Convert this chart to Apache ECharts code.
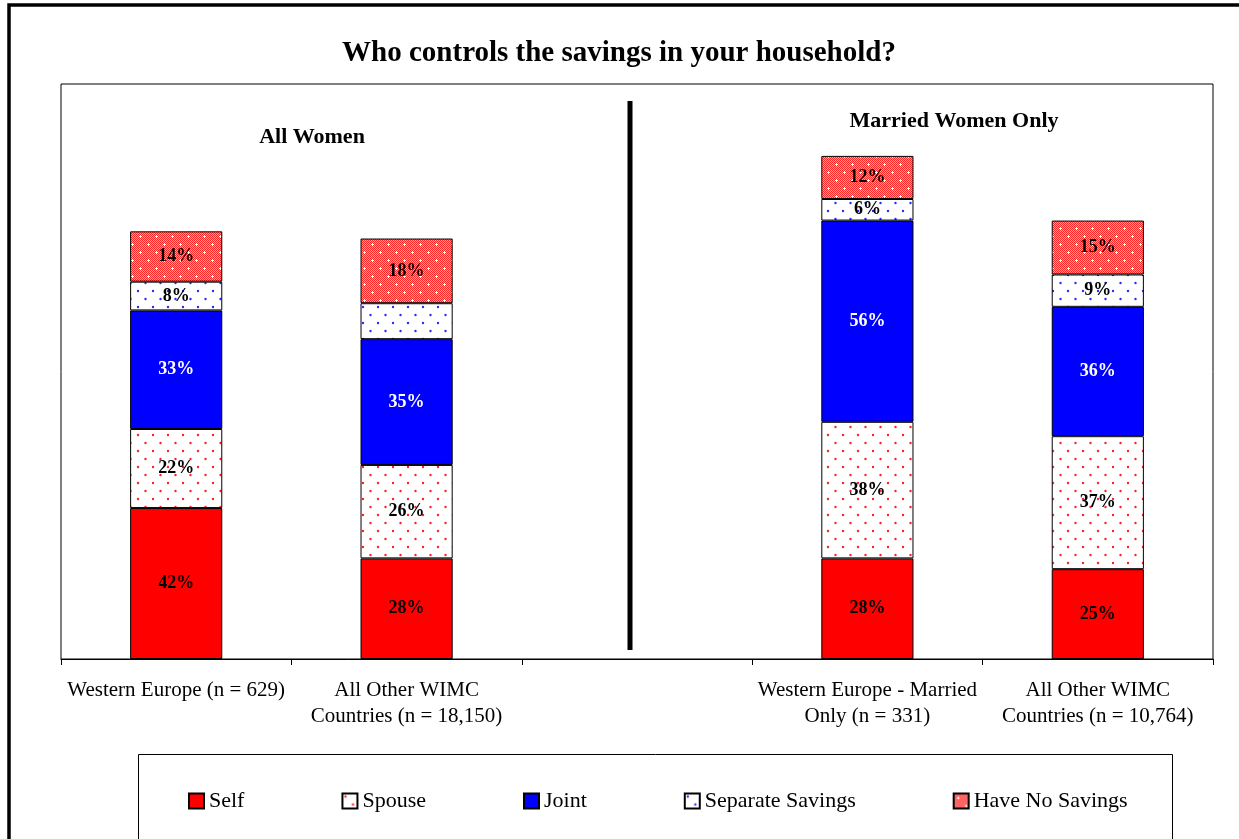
<!DOCTYPE html>
<html>
<head>
<meta charset="utf-8">
<script src="https://cdn.jsdelivr.net/npm/echarts@6/dist/echarts.min.js"></script>
<style>
  html, body { margin: 0; padding: 0; background: #fff; }
  #chart { width: 1239px; height: 839px; }
</style>
</head>
<body>
<div id="chart"></div>
<script>
// Survey groups (third slot is an empty spacer between the two panels)
const categories = [
  'Western Europe (n = 629)',
  'All Other WIMC\nCountries (n = 18,150)',
  '',
  'Western Europe - Married\nOnly (n = 331)',
  'All Other WIMC\nCountries (n = 10,764)'
];

// Percent of respondents per answer
const selfValues      = [42, 28, null, 28, 25];
const spouseValues    = [22, 26, null, 38, 37];
const jointValues     = [33, 35, null, 56, 36];
const separateValues  = [8, 10, null, 6, 9];
const noSavingsValues = [14, 18, null, 12, 15];

// Segments printed without a value label
const separateHidden = [false, true, false, false, false];

const seriesNames = ['Self', 'Spouse', 'Joint', 'Separate Savings', 'Have No Savings'];

// ---- fill patterns ----
function dotPattern(color) {
  const c = document.createElement('canvas');
  c.width = 15; c.height = 16;
  const g = c.getContext('2d');
  g.fillStyle = '#ffffff';
  g.fillRect(0, 0, 15, 16);
  g.fillStyle = color;
  [[3, 3], [10.5, 11]].forEach(([x, y]) => {
    g.beginPath();
    g.arc(x, y, 1.2, 0, Math.PI * 2);
    g.fill();
  });
  return { image: c, repeat: 'repeat' };
}

function checkerPattern() {
  const c = document.createElement('canvas');
  c.width = 16; c.height = 16;
  const g = c.getContext('2d');
  for (let i = 0; i < 16; i++) {
    for (let j = 0; j < 16; j++) {
      g.fillStyle = (i + j) % 2 === 0 ? '#ff2626' : '#ffa0a0';
      g.fillRect(i, j, 1, 1);
    }
  }
  g.fillStyle = '#ffffff';
  [[4, 4], [12, 12]].forEach(([x, y]) => {
    g.fillRect(x - 1, y, 3, 1);
    g.fillRect(x, y - 1, 1, 3);
  });
  return { image: c, repeat: 'repeat' };
}

const fills = [
  '#ff0000',
  dotPattern('#ff2020'),
  '#0000ff',
  dotPattern('#2a2aff'),
  checkerPattern()
];

const valueSets = [selfValues, spouseValues, jointValues, separateValues, noSavingsValues];

const serifFont = '"Liberation Serif", "Times New Roman", serif';

const series = seriesNames.map((name, s) => ({
  name,
  type: 'bar',
  stack: 'total',
  barWidth: '40%',
  itemStyle: { color: fills[s], borderColor: '#000', borderWidth: 1 },
  label: {
    show: true,
    position: 'inside',
    formatter: p => p.value == null ? '' : p.value + '%',
    fontFamily: serifFont,
    fontWeight: 'bold',
    fontSize: 18,
    color: s === 2 ? '#ffffff' : '#000000'
  },
  emphasis: { disabled: true },
  data: valueSets[s].map((v, i) =>
    s === 3 && separateHidden[i] ? { value: v, label: { show: false } } : v)
}));

const chart = echarts.init(document.getElementById('chart'), null, { renderer: 'canvas' });

chart.setOption({
  animation: false,
  backgroundColor: '#ffffff',
  title: [
    {
      text: 'Who controls the savings in your household?',
      left: 614, top: 34, textAlign: 'center',
      textStyle: { fontFamily: serifFont, fontWeight: 'bold', fontSize: 29, color: '#000' }
    },
    {
      text: 'All Women',
      left: 307, top: 121, textAlign: 'center',
      textStyle: { fontFamily: serifFont, fontWeight: 'bold', fontSize: 22, color: '#000' }
    },
    {
      text: 'Married Women Only',
      left: 949, top: 105, textAlign: 'center',
      textStyle: { fontFamily: serifFont, fontWeight: 'bold', fontSize: 22, color: '#000' }
    }
  ],
  legend: {
    data: seriesNames,
    left: 183, top: 785,
    itemWidth: 15, itemHeight: 15, itemGap: 97,
    icon: 'rect',
    textStyle: { fontFamily: serifFont, fontSize: 22, color: '#000' },
    selectedMode: false
  },
  grid: {
    left: 61, right: 26, top: 84, bottom: 180,
    show: true, borderColor: '#000', borderWidth: 1, backgroundColor: '#fff'
  },
  xAxis: {
    type: 'category',
    data: categories,
    axisLine: { lineStyle: { color: '#000', width: 1 } },
    axisTick: { show: true, length: 6, lineStyle: { color: '#000' } },
    axisLabel: {
      fontFamily: serifFont, fontSize: 21, color: '#000',
      margin: 18, lineHeight: 26, interval: 0
    }
  },
  yAxis: {
    type: 'value', min: 0, max: 160, interval: 20,
    show: false, splitLine: { show: false }
  },
  series,
  graphic: [
    // outer frame
    { type: 'rect', shape: { x: 9, y: 5, width: 1300, height: 900 },
      style: { fill: 'none', stroke: '#000', lineWidth: 3.5 }, silent: true },
    // panel divider
    { type: 'line', shape: { x1: 630, y1: 101, x2: 630, y2: 650 },
      style: { stroke: '#000', lineWidth: 5 }, silent: true },
    // legend frame
    { type: 'rect', shape: { x: 138.5, y: 754.5, width: 1034, height: 120 },
      style: { fill: 'none', stroke: '#000', lineWidth: 1 }, silent: true, z: -1 }
  ]
});
</script>
</body>
</html>
